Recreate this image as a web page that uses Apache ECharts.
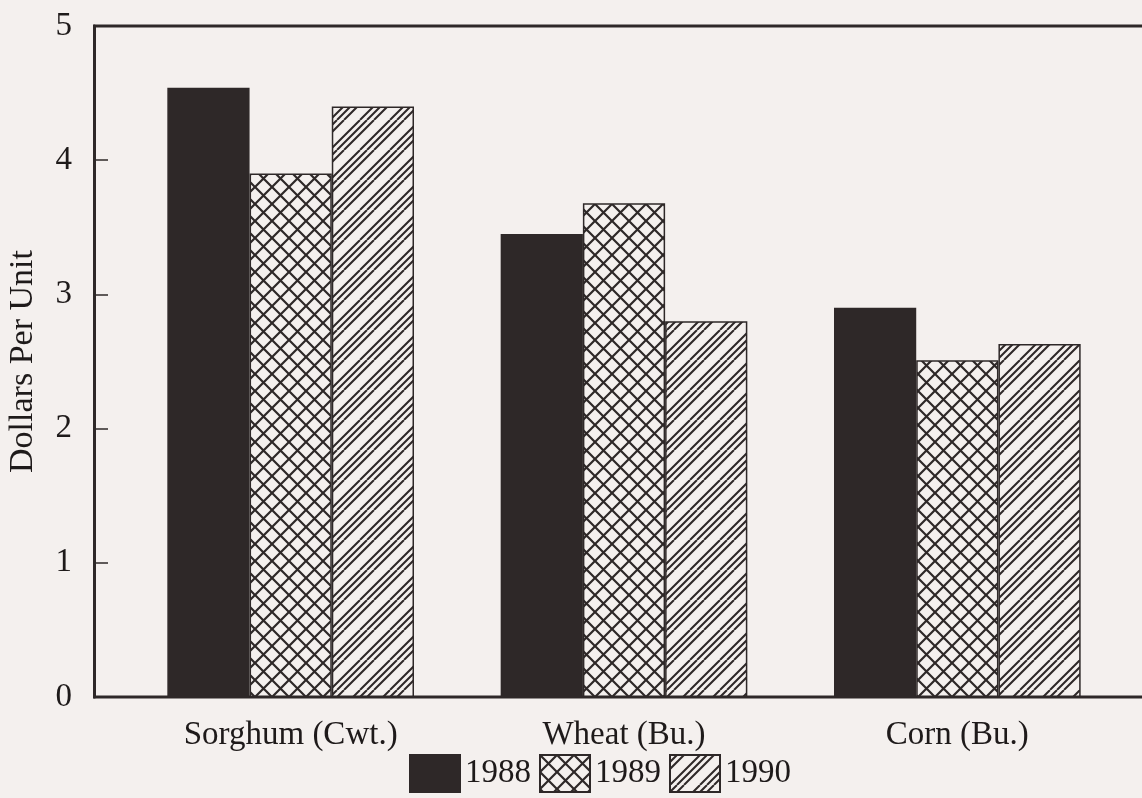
<!DOCTYPE html>
<html>
<head>
<meta charset="utf-8">
<script src="https://cdn.jsdelivr.net/npm/echarts@6/dist/echarts.min.js"></script>
<style>
  html, body { margin: 0; padding: 0; background: #f4f0ee; }
  #main { width: 1142px; height: 798px; }
</style>
</head>
<body>
<div id="main"></div>
<script>
  var categories = ['Sorghum (Cwt.)', 'Wheat (Bu.)', 'Corn (Bu.)'];
  var years = ['1988', '1989', '1990'];
  var v1988 = [4.54, 3.45, 2.90];
  var v1989 = [3.90, 3.68, 2.51];
  var v1990 = [4.40, 2.80, 2.63];
  var yTicks = [0, 1, 2, 3, 4, 5];

  var ink = '#2e2828';
  var paper = '#f4f0ee';

  // cross hatch for 1989
  function crossPattern() {
    var s = 17;
    var c = document.createElement('canvas');
    c.width = s; c.height = s;
    var g = c.getContext('2d');
    g.fillStyle = paper;
    g.fillRect(0, 0, s, s);
    g.strokeStyle = ink;
    g.lineWidth = 2.2;
    g.beginPath();
    g.moveTo(0, 0); g.lineTo(s, s);
    g.moveTo(0, s); g.lineTo(s, 0);
    g.stroke();
    return c;
  }

  // diagonal lines for 1990, in groups of three
  function diagPattern() {
    var s = 30;
    var c = document.createElement('canvas');
    c.width = s; c.height = s;
    var g = c.getContext('2d');
    g.fillStyle = paper;
    g.fillRect(0, 0, s, s);
    g.strokeStyle = ink;
    g.lineWidth = 2;
    var offs = [0, 7, 14];
    g.beginPath();
    for (var k = -1; k <= 1; k++) {
      offs.forEach(function (o) {
        var c0 = k * s + o;
        g.moveTo(c0, s);
        g.lineTo(c0 + s, 0);
      });
    }
    g.stroke();
    return c;
  }

  var fills = [ink, { image: crossPattern(), repeat: 'repeat' }, { image: diagPattern(), repeat: 'repeat' }];
  var datasets = [v1988, v1989, v1990];

  var font = '"Liberation Serif", "DejaVu Serif", serif';

  var chart = echarts.init(document.getElementById('main'), null, { renderer: 'canvas' });
  chart.setOption({
    backgroundColor: paper,
    animation: false,
    textStyle: { fontFamily: font, color: '#1e1a1a' },
    grid: { left: 124, right: 18, top: 26, bottom: 101, containLabel: false, outerBoundsMode: 'none' },
    legend: {
      bottom: 0,
      left: 404,
      itemWidth: 50,
      itemHeight: 37,
      itemGap: 8,
      icon: 'rect',
      textStyle: { fontFamily: font, fontSize: 33, color: '#1e1a1a', padding: [10, 0, 0, 0] },
      data: years
    },
    xAxis: {
      type: 'category',
      data: categories,
      axisLine: { show: false },
      axisTick: { show: false },
      axisLabel: { fontSize: 33, color: '#1e1a1a', margin: 22, fontFamily: font }
    },
    yAxis: {
      type: 'value',
      min: yTicks[0],
      max: yTicks[yTicks.length - 1],
      interval: 1,
      offset: 30,
      name: 'Dollars Per Unit',
      nameLocation: 'middle',
      nameGap: 54,
      nameTextStyle: { fontSize: 34, color: '#1e1a1a', fontFamily: font },
      axisLine: { show: true, lineStyle: { color: ink, width: 3 } },
      axisTick: { show: true, inside: true, length: 14, lineStyle: { color: ink, width: 1.5 } },
      axisLabel: { fontSize: 33, color: '#1e1a1a', margin: 22, fontFamily: font },
      splitLine: { show: false }
    },
    graphic: [
      { type: 'line', shape: { x1: 93, y1: 26, x2: 1142, y2: 26 }, style: { stroke: ink, lineWidth: 3 } },
      { type: 'line', shape: { x1: 93, y1: 697, x2: 1142, y2: 697 }, style: { stroke: ink, lineWidth: 3 } }
    ],
    series: years.map(function (y, i) {
      return {
        name: y,
        type: 'bar',
        data: datasets[i],
        barGap: '0%',
        barCategoryGap: '26%',
        itemStyle: { color: fills[i], borderColor: ink, borderWidth: 1.5 }
      };
    })
  });
</script>
</body>
</html>
